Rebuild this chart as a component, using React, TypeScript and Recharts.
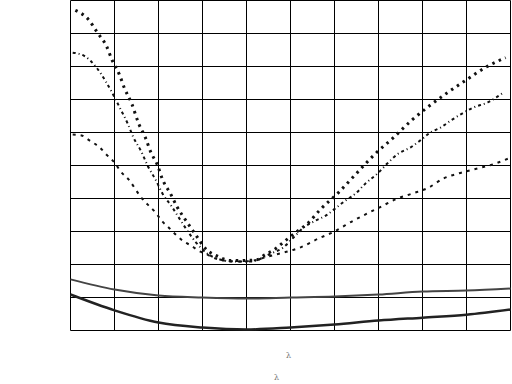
import React from 'react';
import { LineChart, Line, XAxis, YAxis, CartesianGrid } from 'recharts';

// grid ticks on both axes (unitless, 10 divisions)
const ticks = [0, 1, 2, 3, 4, 5, 6, 7, 8, 9, 10];

// big dotted curve
const seriesA = [
  { x: 0.11, y: 9.7 }, { x: 0.41, y: 9.42 }, { x: 0.61, y: 9.03 }, { x: 0.82, y: 8.61 },
  { x: 0.95, y: 8.18 }, { x: 1.11, y: 7.76 }, { x: 1.23, y: 7.33 }, { x: 1.39, y: 6.88 },
  { x: 1.55, y: 6.27 }, { x: 1.7, y: 5.85 }, { x: 1.82, y: 5.42 }, { x: 1.98, y: 5.0 },
  { x: 2.09, y: 4.58 }, { x: 2.27, y: 4.15 }, { x: 2.43, y: 3.73 }, { x: 2.64, y: 3.3 },
  { x: 2.84, y: 2.91 }, { x: 3.07, y: 2.48 }, { x: 3.36, y: 2.24 }, { x: 3.64, y: 2.12 },
  { x: 3.93, y: 2.12 }, { x: 4.25, y: 2.15 }, { x: 4.39, y: 2.27 }, { x: 4.66, y: 2.48 },
  { x: 4.89, y: 2.73 }, { x: 5.18, y: 3.03 }, { x: 5.41, y: 3.27 }, { x: 5.68, y: 3.67 },
  { x: 6.09, y: 4.18 }, { x: 6.5, y: 4.76 }, { x: 6.93, y: 5.36 }, { x: 7.32, y: 5.82 },
  { x: 7.77, y: 6.39 }, { x: 8.11, y: 6.76 }, { x: 8.57, y: 7.21 }, { x: 8.98, y: 7.58 },
  { x: 9.43, y: 7.97 }, { x: 9.89, y: 8.27 },
];

// dot-dash curve
const seriesB = [
  { x: 0.05, y: 8.42 }, { x: 0.3, y: 8.33 }, { x: 0.59, y: 7.97 }, { x: 0.8, y: 7.55 },
  { x: 0.98, y: 7.12 }, { x: 1.14, y: 6.7 }, { x: 1.3, y: 6.27 }, { x: 1.43, y: 5.85 },
  { x: 1.61, y: 5.42 }, { x: 1.75, y: 5.0 }, { x: 1.93, y: 4.58 }, { x: 2.09, y: 4.15 },
  { x: 2.3, y: 3.76 }, { x: 2.52, y: 3.3 }, { x: 2.73, y: 2.88 }, { x: 2.98, y: 2.48 },
  { x: 3.14, y: 2.3 }, { x: 3.34, y: 2.18 }, { x: 3.7, y: 2.09 }, { x: 4.09, y: 2.09 },
  { x: 4.55, y: 2.33 }, { x: 4.84, y: 2.52 }, { x: 5.07, y: 2.82 }, { x: 5.3, y: 3.12 },
  { x: 5.57, y: 3.33 }, { x: 5.8, y: 3.48 }, { x: 6.02, y: 3.7 }, { x: 6.25, y: 3.94 },
  { x: 6.48, y: 4.15 }, { x: 6.7, y: 4.45 }, { x: 6.98, y: 4.76 }, { x: 7.2, y: 5.06 },
  { x: 7.45, y: 5.36 }, { x: 7.73, y: 5.55 }, { x: 7.95, y: 5.76 }, { x: 8.18, y: 6.0 },
  { x: 8.41, y: 6.15 }, { x: 8.64, y: 6.36 }, { x: 8.91, y: 6.58 }, { x: 9.16, y: 6.76 },
  { x: 9.48, y: 6.91 }, { x: 9.84, y: 7.21 },
];

// dashed curve
const seriesC = [
  { x: 0.05, y: 5.94 }, { x: 0.25, y: 5.91 }, { x: 0.43, y: 5.76 }, { x: 0.66, y: 5.55 },
  { x: 0.84, y: 5.3 }, { x: 1.0, y: 5.09 }, { x: 1.14, y: 4.82 }, { x: 1.32, y: 4.58 },
  { x: 1.59, y: 4.06 }, { x: 1.75, y: 3.82 }, { x: 1.93, y: 3.58 }, { x: 2.09, y: 3.3 },
  { x: 2.23, y: 3.12 }, { x: 2.39, y: 2.91 }, { x: 2.57, y: 2.7 }, { x: 2.73, y: 2.58 },
  { x: 2.91, y: 2.42 }, { x: 3.11, y: 2.3 }, { x: 3.3, y: 2.18 }, { x: 3.48, y: 2.12 },
  { x: 3.86, y: 2.09 }, { x: 4.16, y: 2.12 }, { x: 4.48, y: 2.24 }, { x: 4.84, y: 2.36 },
  { x: 5.23, y: 2.52 }, { x: 5.64, y: 2.79 }, { x: 5.95, y: 2.97 }, { x: 6.43, y: 3.33 },
  { x: 6.75, y: 3.55 }, { x: 6.98, y: 3.7 }, { x: 7.43, y: 4.0 }, { x: 7.77, y: 4.15 },
  { x: 8.14, y: 4.33 }, { x: 8.48, y: 4.61 }, { x: 8.82, y: 4.76 }, { x: 9.25, y: 4.91 },
  { x: 9.59, y: 5.03 }, { x: 9.95, y: 5.21 },
];

// solid curves near the bottom
const solidUpper = [
  { x: 0, y: 1.55 }, { x: 1, y: 1.24 }, { x: 2, y: 1.06 }, { x: 3, y: 1.0 },
  { x: 4, y: 0.97 }, { x: 5, y: 1.0 }, { x: 6, y: 1.03 }, { x: 7, y: 1.09 },
  { x: 8, y: 1.18 }, { x: 9, y: 1.21 }, { x: 10, y: 1.27 },
];
const solidLower = [
  { x: 0, y: 1.09 }, { x: 1, y: 0.61 }, { x: 2, y: 0.24 }, { x: 3, y: 0.09 },
  { x: 4, y: 0.03 }, { x: 5, y: 0.09 }, { x: 6, y: 0.18 }, { x: 7, y: 0.3 },
  { x: 8, y: 0.39 }, { x: 9, y: 0.48 }, { x: 10, y: 0.64 },
];

const labelStyle: React.CSSProperties = {
  position: 'absolute',
  fontSize: 8,
  color: '#777',
  fontFamily: 'DejaVu Serif, serif',
  lineHeight: 1,
};

export default function App() {
  return (
    <div style={{ position: 'absolute', left: 0, top: 0, width: 512, height: 384, background: '#fff' }}>
      <LineChart width={512} height={384} margin={{ top: 0.5, right: 1.5, bottom: 53.5, left: 70.5 }}>
        <CartesianGrid stroke="#000" strokeWidth={1} strokeOpacity={1} />
        <XAxis type="number" dataKey="x" domain={[0, 10]} ticks={ticks} hide />
        <YAxis type="number" dataKey="y" domain={[0, 10]} ticks={ticks} hide />
        <Line data={solidUpper} dataKey="y" type="monotone" stroke="#444" strokeWidth={2} dot={false} isAnimationActive={false} />
        <Line data={solidLower} dataKey="y" type="monotone" stroke="#222" strokeWidth={2.5} dot={false} isAnimationActive={false} />
        <Line data={seriesC} dataKey="y" type="monotone" stroke="#111" strokeWidth={2} strokeDasharray="3 5" dot={false} isAnimationActive={false} />
        <Line data={seriesB} dataKey="y" type="monotone" stroke="#111" strokeWidth={2} strokeDasharray="3 3 1 3" dot={false} isAnimationActive={false} />
        <Line data={seriesA} dataKey="y" type="monotone" stroke="#111" strokeWidth={3} strokeDasharray="2.5 4.5" dot={false} isAnimationActive={false} />
      </LineChart>
      <div style={{ ...labelStyle, left: 286, top: 352 }}>λ</div>
      <div style={{ ...labelStyle, left: 274, top: 374 }}>λ</div>
    </div>
  );
}
